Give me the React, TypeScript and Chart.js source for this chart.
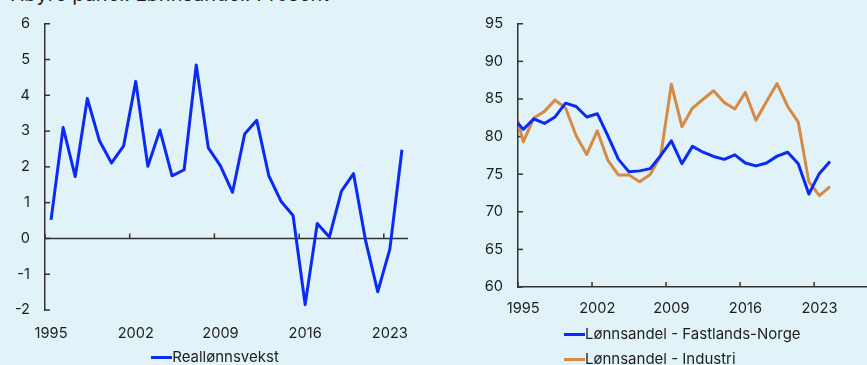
import React, { useEffect, useRef } from 'react';
import { Chart, registerables } from 'chart.js';

Chart.register(...registerables);

// ---------- data ----------
const LEFT_YEARS = [
  '1995', '1996', '1997', '1998', '1999', '2000', '2001', '2002', '2003', '2004',
  '2005', '2006', '2007', '2008', '2009', '2010', '2011', '2012', '2013', '2014',
  '2015', '2016', '2017', '2018', '2019', '2020', '2021', '2022', '2023', '2024',
];
const REAL_WAGE_GROWTH = [
  0.52, 3.1, 1.73, 3.91, 2.73, 2.11, 2.59, 4.39, 2.02, 3.03,
  1.75, 1.92, 4.85, 2.53, 2.03, 1.29, 2.92, 3.3, 1.75, 1.04,
  0.64, -1.85, 0.42, 0.04, 1.32, 1.81, -0.07, -1.49, -0.3, 2.48,
];

const RIGHT_YEARS = [
  '1994', '1995', '1996', '1997', '1998', '1999', '2000', '2001', '2002', '2003',
  '2004', '2005', '2006', '2007', '2008', '2009', '2010', '2011', '2012', '2013',
  '2014', '2015', '2016', '2017', '2018', '2019', '2020', '2021', '2022', '2023',
  '2024', '2025', '2026', '2027',
];
const WAGE_SHARE_MAINLAND = [
  82.5, 80.96, 82.35, 81.74, 82.61, 84.44, 84.0, 82.6, 83.04, 80.1,
  76.97, 75.31, 75.44, 75.74, 77.49, 79.44, 76.4, 78.7, 77.92, 77.36,
  76.97, 77.57, 76.49, 76.1, 76.49, 77.4, 77.92, 76.4, 72.35, 75.1,
  76.7,
];
const WAGE_SHARE_INDUSTRY = [
  84.6, 79.3, 82.48, 83.35, 84.87, 83.79, 80.1, 77.62, 80.75, 76.84,
  74.88, 74.88, 74.0, 74.96, 77.49, 86.96, 81.31, 83.79, 84.96, 86.09,
  84.53, 83.66, 85.87, 82.18, 84.66, 87.05, 84.0, 81.92, 74.0, 72.14,
  73.36,
];

const X_TICK_YEARS = ['1995', '2002', '2009', '2016', '2023'];
const LEFT_Y_RANGE = [-2, 6, 1];
const RIGHT_Y_RANGE = [60, 95, 5];

const TITLE_TEXT = 'Høyre panel: Lønnsandel. Prosent';
const LEFT_LABEL = 'Reallønnsvekst';
const MAINLAND_LABEL = 'Lønnsandel - Fastlands-Norge';
const INDUSTRY_LABEL = 'Lønnsandel - Industri';

// ---------- style ----------
const BG = '#e1f3f8';
const BLUE = '#0a2af5';
const ORANGE = '#d58a45';
const AXIS = '#333333';
const TEXT = '#1e1e1e';
const FONT_FAMILY = 'Inter, "Noto Sans", sans-serif';

const inwardTicks = {
  id: 'inwardTicks',
  beforeDatasetsDraw(chart: any, _args: any, opts: any) {
    const { ctx, chartArea, scales } = chart;
    const x = scales.x;
    const y = scales.y;
    const len = 5;
    ctx.save();
    ctx.strokeStyle = AXIS;
    ctx.lineWidth = 1.5;
    const line = (x1: number, y1: number, x2: number, y2: number) => {
      ctx.beginPath();
      ctx.moveTo(x1, y1);
      ctx.lineTo(x2, y2);
      ctx.stroke();
    };
    y.ticks.forEach((t: any) => {
      const py = y.getPixelForValue(t.value);
      line(chartArea.left, py, chartArea.left + len, py);
    });
    const base = opts.baseValue != null ? y.getPixelForValue(opts.baseValue) : chartArea.bottom;
    if (opts.drawBase) line(chartArea.left, base, chartArea.right, base);
    const labels: string[] = x.getLabels();
    (opts.tickYears || []).forEach((yr: string) => {
      const idx = labels.indexOf(yr);
      if (idx < 0) return;
      const px = x.getPixelForValue(idx - 0.5);
      line(px, base, px, base - len);
    });
    ctx.restore();
  },
};

const tickFont = { family: FONT_FAMILY, size: 14.6 };

function xTickCallback(this: any, v: any) {
  const l = this.getLabelForValue(v);
  return X_TICK_YEARS.includes(l) ? l : null;
}

function makeOptions(p: {
  yRange: number[];
  padRight: number;
  padTop: number;
  yWidth: number;
  xHeight: number;
  xPad: number;
  xMin?: string;
  xBorder: boolean;
  baseValue: number | null;
  drawBase: boolean;
}) {
  return {
    animation: false,
    responsive: false,
    maintainAspectRatio: false,
    events: [],
    layout: { padding: { top: p.padTop, right: p.padRight, left: 0, bottom: 0 } },
    plugins: {
      legend: { display: false },
      tooltip: { enabled: false },
      inwardTicks: { baseValue: p.baseValue, drawBase: p.drawBase, tickYears: X_TICK_YEARS },
    },
    elements: { point: { radius: 0 }, line: { tension: 0, borderJoinStyle: 'round' } },
    scales: {
      x: {
        type: 'category',
        offset: true,
        min: p.xMin,
        grid: { display: false, drawTicks: false, offset: true },
        border: { display: p.xBorder, color: AXIS, width: 1.5 },
        ticks: {
          autoSkip: false,
          maxRotation: 0,
          padding: p.xPad,
          font: tickFont,
          color: TEXT,
          callback: xTickCallback,
        },
        afterFit(s: any) {
          s.height = p.xHeight;
        },
      },
      y: {
        min: p.yRange[0],
        max: p.yRange[1],
        ticks: { stepSize: p.yRange[2], padding: 15, font: tickFont, color: TEXT },
        grid: { display: false, drawTicks: false },
        border: { display: true, color: AXIS, width: 1.5 },
        afterFit(s: any) {
          s.width = p.yWidth;
        },
      },
    },
  };
}

function LegendItem({ color, label }: { color: string; label: string }) {
  return (
    <div style={{ display: 'flex', alignItems: 'center', height: 18 }}>
      <span style={{ display: 'inline-block', width: 21, height: 3, background: color }} />
      <span style={{ fontFamily: FONT_FAMILY, fontSize: 15, color: TEXT, lineHeight: '18px', whiteSpace: 'nowrap' }}>
        {label}
      </span>
    </div>
  );
}

export default function App() {
  const leftRef = useRef<HTMLCanvasElement | null>(null);
  const rightRef = useRef<HTMLCanvasElement | null>(null);

  useEffect(() => {
    const left = new Chart(leftRef.current as HTMLCanvasElement, {
      type: 'line',
      data: {
        labels: LEFT_YEARS,
        datasets: [
          { label: LEFT_LABEL, data: REAL_WAGE_GROWTH, borderColor: BLUE, borderWidth: 3, fill: false },
        ],
      },
      options: makeOptions({
        yRange: LEFT_Y_RANGE,
        padRight: 22,
        padTop: 19,
        yWidth: 45,
        xHeight: 55,
        xPad: 14.5,
        xBorder: false,
        baseValue: 0,
        drawBase: true,
      }) as any,
      plugins: [inwardTicks as any],
    });
    const right = new Chart(rightRef.current as HTMLCanvasElement, {
      type: 'line',
      data: {
        labels: RIGHT_YEARS,
        datasets: [
          { label: MAINLAND_LABEL, data: WAGE_SHARE_MAINLAND, borderColor: BLUE, borderWidth: 3, fill: false },
          { label: INDUSTRY_LABEL, data: WAGE_SHARE_INDUSTRY, borderColor: ORANGE, borderWidth: 3, fill: false },
        ],
      },
      options: makeOptions({
        yRange: RIGHT_Y_RANGE,
        padRight: 0,
        padTop: 19,
        yWidth: 78,
        xHeight: 78,
        xPad: 13,
        xMin: '1995',
        xBorder: true,
        baseValue: null,
        drawBase: false,
      }) as any,
      plugins: [inwardTicks as any],
    });
    return () => {
      left.destroy();
      right.destroy();
    };
  }, []);

  return (
    <div style={{ position: 'fixed', left: 0, top: 0, width: 867, height: 365, background: BG, overflow: 'hidden' }}>
      <div
        style={{
          position: 'absolute',
          left: 10,
          top: -16,
          fontFamily: FONT_FAMILY,
          fontSize: 20,
          lineHeight: '20px',
          color: TEXT,
          whiteSpace: 'nowrap',
        }}
      >
        {TITLE_TEXT}
      </div>
      <canvas ref={leftRef} width={430} height={365} style={{ position: 'absolute', left: 0, top: 0 }} />
      <canvas ref={rightRef} width={427} height={365} style={{ position: 'absolute', left: 440, top: 0 }} />
      <div style={{ position: 'absolute', left: 0, width: 430, top: 348, display: 'flex', justifyContent: 'center' }}>
        <LegendItem color={BLUE} label={LEFT_LABEL} />
      </div>
      <div style={{ position: 'absolute', left: 564, top: 325 }}>
        <LegendItem color={BLUE} label={MAINLAND_LABEL} />
        <div style={{ height: 7 }} />
        <LegendItem color={ORANGE} label={INDUSTRY_LABEL} />
      </div>
    </div>
  );
}
